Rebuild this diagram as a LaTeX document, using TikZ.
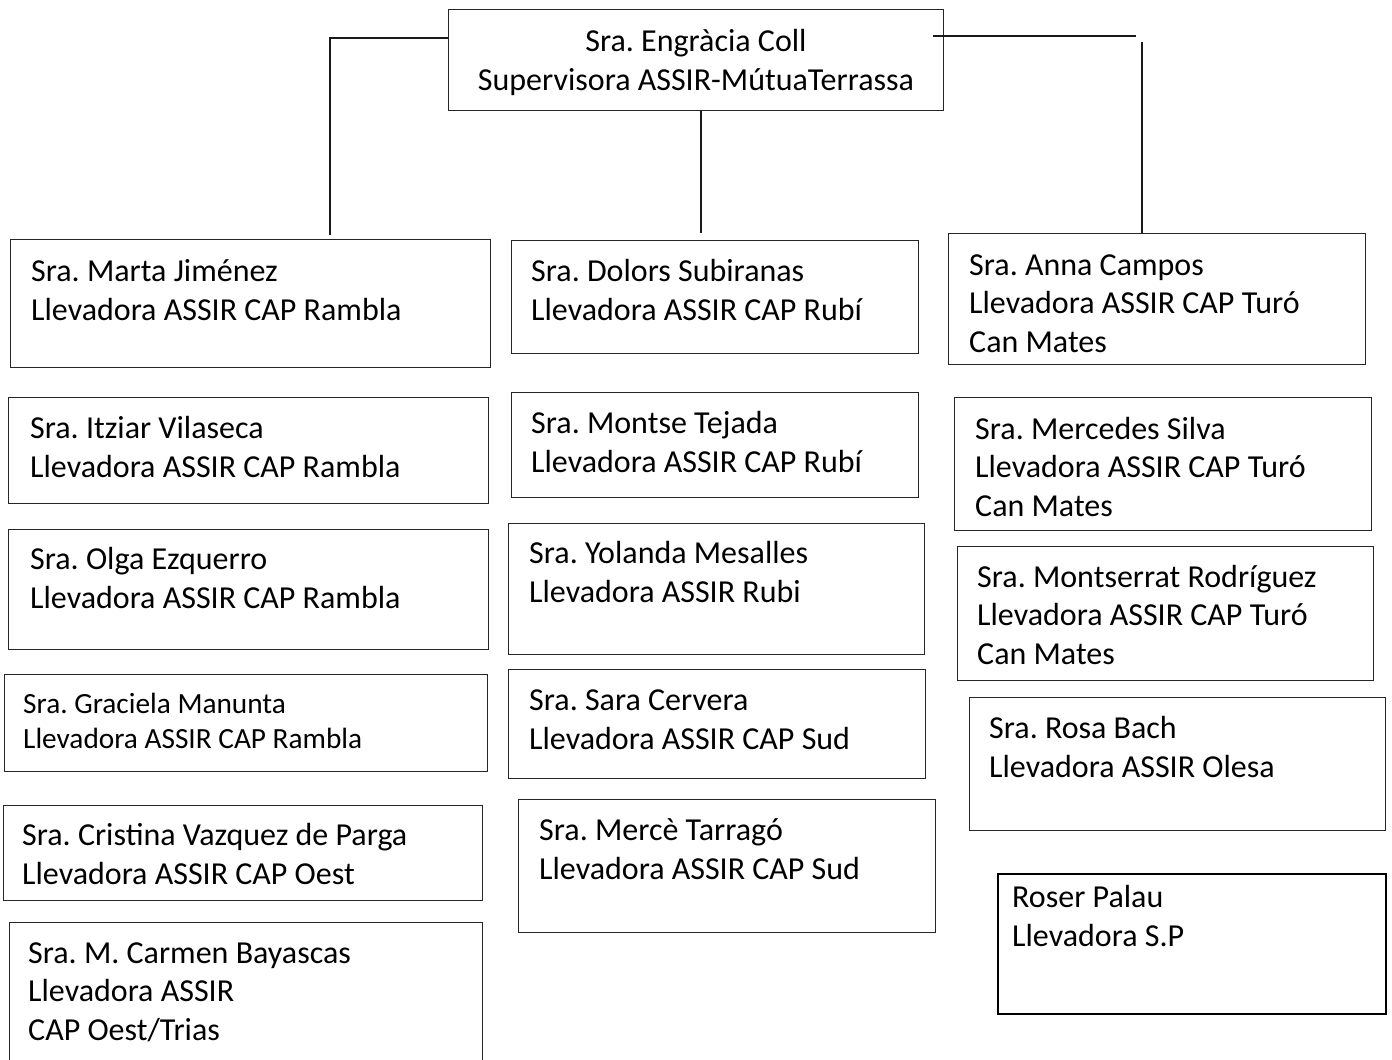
\documentclass[tikz,border=0pt]{standalone}
\usepackage{fontspec}
\setmainfont{Carlito}
\frenchspacing
\tikzset{
  box/.style={draw=black!85, line width=1.3pt, inner sep=0pt, anchor=north west},
  boxthick/.style={box, draw=black, line width=2.4pt},
  lbl/.style={anchor=base west, align=left, inner sep=0pt, font=\fontsize{32}{38.5}\selectfont},
  lblsmall/.style={lbl, font=\fontsize{29.3}{35}\selectfont},
  conn/.style={line width=1.6pt, draw=black!90},
}
\begin{document}
\begin{tikzpicture}[x=1pt,y=-1pt]
\useasboundingbox (0,0) rectangle (1392,1060);
% top
\node[box, minimum width=495pt, minimum height=101pt] (top) at (448,9) {};
\node[lbl, anchor=base, align=center] (toptxt) at (696,90) {Sra. Engràcia Coll\\Supervisora ASSIR-MútuaTerrassa};
% left column
\node[box, minimum width=480pt, minimum height=128pt] (marta) at (10,239) {};
\node[lbl] (martatxt) at (31,320) {Sra. Marta Jiménez\\Llevadora ASSIR CAP Rambla};
\node[box, minimum width=480pt, minimum height=106pt] (itziar) at (8,397) {};
\node[lbl] (itziartxt) at (30,477) {Sra. Itziar Vilaseca\\Llevadora ASSIR CAP Rambla};
\node[box, minimum width=480pt, minimum height=120pt] (olga) at (8,529) {};
\node[lbl] (olgatxt) at (30,608) {Sra. Olga Ezquerro\\Llevadora ASSIR CAP Rambla};
\node[box, minimum width=483pt, minimum height=97pt] (graciela) at (4,674) {};
\node[lblsmall] (gracielatxt) at (23,748) {Sra. Graciela Manunta\\Llevadora ASSIR CAP Rambla};
\node[box, minimum width=479pt, minimum height=95pt] (cristina) at (3,805) {};
\node[lbl] (cristinatxt) at (22,884) {Sra. Cristina Vazquez de Parga\\Llevadora ASSIR CAP Oest};
\node[box, minimum width=473pt, minimum height=150pt] (carmen) at (9,922) {};
\node[lbl] (carmentxt) at (28,1040) {Sra. M. Carmen Bayascas\\Llevadora ASSIR\\CAP Oest/Trias};
% middle column
\node[box, minimum width=407pt, minimum height=113pt] (dolors) at (511,240) {};
\node[lbl] (dolorstxt) at (531,320) {Sra. Dolors Subiranas\\Llevadora ASSIR CAP Rubí};
\node[box, minimum width=407pt, minimum height=105pt] (montse) at (511,392) {};
\node[lbl] (montsetxt) at (531,472) {Sra. Montse Tejada\\Llevadora ASSIR CAP Rubí};
\node[box, minimum width=416pt, minimum height=131pt] (yolanda) at (508,523) {};
\node[lbl] (yolandatxt) at (529,602) {Sra. Yolanda Mesalles\\Llevadora ASSIR Rubi};
\node[box, minimum width=417pt, minimum height=109pt] (sara) at (508,669) {};
\node[lbl] (saratxt) at (529,749) {Sra. Sara Cervera\\Llevadora ASSIR CAP Sud};
\node[box, minimum width=417pt, minimum height=133pt] (merce) at (518,799) {};
\node[lbl] (mercetxt) at (539,879) {Sra. Mercè Tarragó\\Llevadora ASSIR CAP Sud};
% right column
\node[box, minimum width=417pt, minimum height=131pt] (anna) at (948,233) {};
\node[lbl] (annatxt) at (969,352) {Sra. Anna Campos\\Llevadora ASSIR CAP Turó\\Can Mates};
\node[box, minimum width=417pt, minimum height=133pt] (mercedes) at (954,397) {};
\node[lbl] (mercedestxt) at (975,516) {Sra. Mercedes Silva\\Llevadora ASSIR CAP Turó\\Can Mates};
\node[box, minimum width=416pt, minimum height=134pt] (montserrat) at (957,546) {};
\node[lbl] (montserrattxt) at (977,664) {Sra. Montserrat Rodríguez\\Llevadora ASSIR CAP Turó\\Can Mates};
\node[box, minimum width=416pt, minimum height=133pt] (rosa) at (969,697) {};
\node[lbl] (rosatxt) at (989,777) {Sra. Rosa Bach\\Llevadora ASSIR Olesa};
\node[boxthick, minimum width=388pt, minimum height=140pt] (roser) at (997,873) {};
\node[lbl] (rosertxt) at (1012,946) {Roser Palau\\Llevadora S.P};
% connectors
\coordinate (lcorner) at (330,38);
\coordinate (lend) at (330,235);
\draw[conn] ([yshift=-29pt]top.north west) -- (lcorner) -- (lend);
\coordinate (mend) at (701,233);
\draw[conn] (top.south -| mend) -- (mend);
\coordinate (rstart) at (933,36);
\coordinate (rend) at (1136,36);
\draw[conn] (rstart) -- (rend);
\coordinate (rvtop) at (1142,42);
\draw[conn] (rvtop) -- (rvtop |- anna.north);
\end{tikzpicture}
\end{document}
